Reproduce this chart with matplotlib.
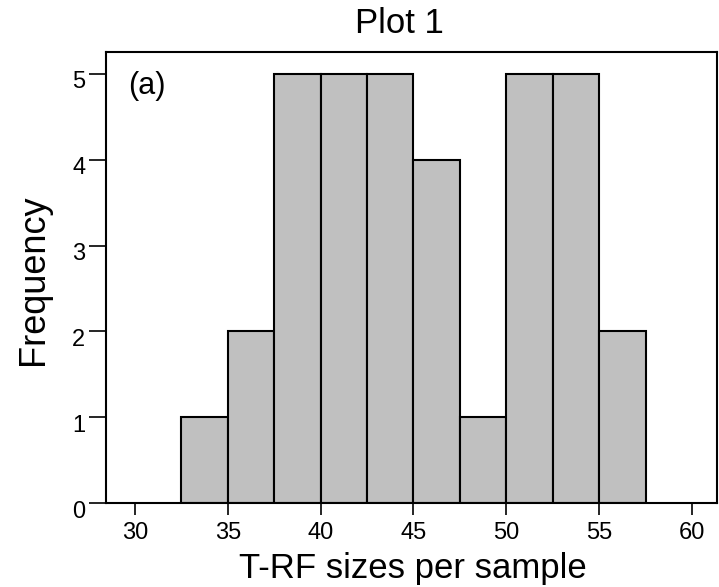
import matplotlib
matplotlib.use("Agg")
import matplotlib.pyplot as plt
import matplotlib.transforms as mtransforms

# Histogram of T-RF sizes per sample
bin_edges = [32.5, 35.0, 37.5, 40.0, 42.5, 45.0, 47.5, 50.0, 52.5, 55.0, 57.5]
frequencies = [1, 2, 5, 5, 5, 4, 1, 5, 5, 2]
x_ticks = [30, 35, 40, 45, 50, 55, 60]
y_ticks = [0, 1, 2, 3, 4, 5]

plt.rcParams["font.family"] = ["Liberation Sans", "DejaVu Sans"]

W, H = 719, 587
fig = plt.figure(figsize=(W / 100, H / 100), dpi=100)
ax = fig.add_axes([106 / W, 1 - 503 / H, (717 - 106) / W, (503 - 52) / H])

widths = [b - a for a, b in zip(bin_edges[:-1], bin_edges[1:])]
ax.bar(bin_edges[:-1], frequencies, width=widths, align="edge",
       color="#c0c0c0", edgecolor="black", linewidth=1.5, zorder=2)

ax.set_xlim(28.44, 61.35)
ax.set_ylim(0, 5.256)
ax.set_xticks(x_ticks)
ax.set_yticks(y_ticks)
ax.set_xticklabels([str(v) for v in x_ticks])
ax.set_yticklabels([str(v) for v in y_ticks])

for s in ax.spines.values():
    s.set_linewidth(1.5)
    s.set_zorder(3)

ax.tick_params(axis="x", direction="out", length=8.6, width=1.2,
               labelsize=17, pad=5)
ax.tick_params(axis="y", direction="out", length=12, width=1.2,
               labelsize=17, pad=3)

# y labels sit slightly below their tick marks
shift = mtransforms.ScaledTranslation(0, -6 / 100, fig.dpi_scale_trans)
for lab in ax.get_yticklabels():
    lab.set_transform(lab.get_transform() + shift)

ax.text(0.036, 0.958, "(a)", transform=ax.transAxes, fontsize=22,
        ha="left", va="top")

fig.text(399 / W, 1 - 33 / H, "Plot 1", fontsize=25, ha="center",
         va="baseline")
fig.text(413 / W, 9 / H, "T-RF sizes per sample", fontsize=25,
         ha="center", va="baseline")
fig.text(33.5 / W, 1 - 280 / H, "Frequency", fontsize=26, rotation=90,
         ha="center", va="center")

fig.savefig("out.png", dpi=100)
